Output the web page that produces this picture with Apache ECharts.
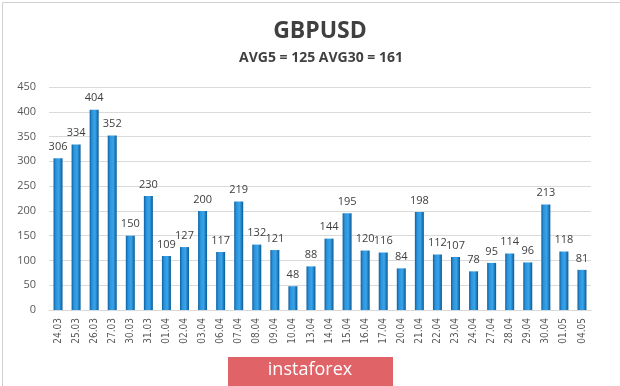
<!DOCTYPE html>
<html><head><meta charset="utf-8">
<script src="https://cdn.jsdelivr.net/npm/echarts@6/dist/echarts.min.js"></script>
<style>html,body{margin:0;padding:0;background:#fff}#c{width:620px;height:386px}</style>
</head><body><div id="c"></div>
<script>
const categories = ["24.03","25.03","26.03","27.03","30.03","31.03","01.04","02.04","03.04","06.04","07.04","08.04","09.04","10.04","13.04","14.04","15.04","16.04","17.04","20.04","21.04","22.04","23.04","24.04","27.04","28.04","29.04","30.04","01.05","04.05"];
const values = [306,334,404,352,150,230,109,127,200,117,219,132,121,48,88,144,195,120,116,84,198,112,107,78,95,114,96,213,118,81];
const titleText = "GBPUSD";
const subtitleText = "AVG5 = 125 AVG30 = 161";
const watermark = "instaforex";

const chart = echarts.init(document.getElementById('c'), null, {renderer:'canvas'});
chart.setOption({
  backgroundColor:'#fff',
  grid:{left:49, right:29, top:87, bottom:76},
  xAxis:{type:'category', data:categories,
    axisLine:{lineStyle:{color:'#d9d9d9'}}, axisTick:{show:false},
    axisLabel:{rotate:90, interval:0, fontSize:10, color:'#595959', fontFamily:'DejaVu Sans Condensed', margin:8}},
  yAxis:{type:'value', min:0, max:450, interval:50,
    axisLine:{show:false}, axisTick:{show:false},
    axisLabel:{fontSize:11, color:'#595959', fontFamily:'Open Sans', margin:13},
    splitLine:{lineStyle:{color:'#dadada', width:1}}},
  series:[{type:'bar', data:values, barWidth:9,
    itemStyle:{color:new echarts.graphic.LinearGradient(0,0,1,0,[
      {offset:0,color:'#0d5f9e'},{offset:0.25,color:'#2a93dc'},{offset:0.6,color:'#3aa4ea'},{offset:1,color:'#0a5a95'}])},
    label:{show:true, position:'top', distance:6, fontSize:11, color:'#404040', fontFamily:'Open Sans'}}],
  graphic:[
    {type:'rect', left:0, top:0, shape:{width:619, height:385}, style:{fill:'none', stroke:'#d0d0d0', lineWidth:1}, silent:true},
    {type:'text', x:320, y:31, style:{text:titleText, textAlign:'center', textVerticalAlign:'middle', fill:'#404040', fontSize:23, fontWeight:'bold', fontFamily:'Open Sans'}},
    {type:'text', x:321, y:58, style:{text:subtitleText, textAlign:'center', textVerticalAlign:'middle', fill:'#404040', fontSize:14, fontWeight:'bold', fontFamily:'Open Sans'}},
    {type:'rect', left:228, top:357, shape:{width:165, height:29}, style:{fill:'#e06368'}},
    {type:'text', x:310, y:370, style:{text:watermark, textAlign:'center', textVerticalAlign:'middle', fill:'#fff', fontSize:18, fontFamily:'Open Sans'}}
  ]
});
</script></body></html>
